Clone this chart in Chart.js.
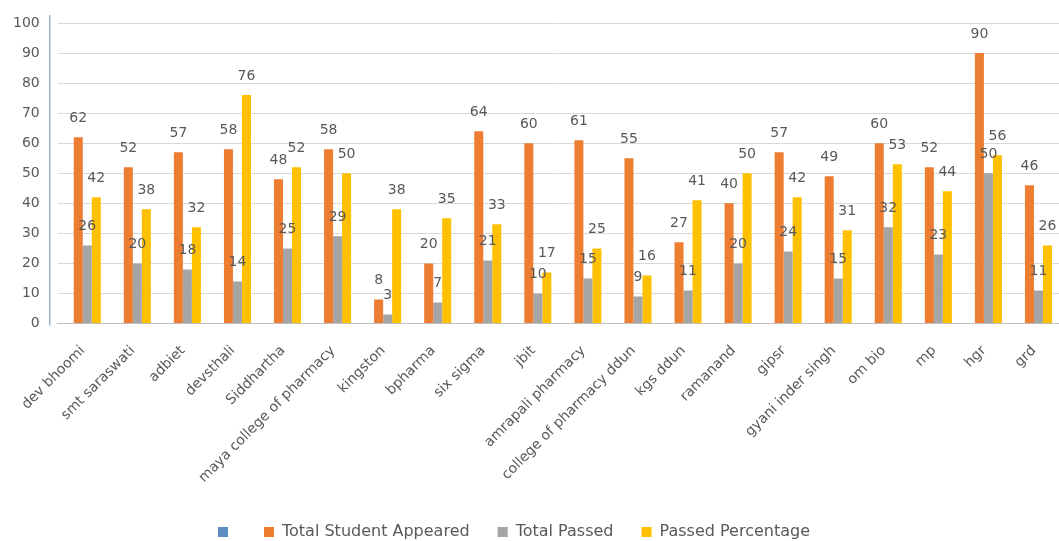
<!DOCTYPE html>
<html>
<head>
<meta charset="utf-8">
<title>Student Results</title>
<script src="https://cdn.jsdelivr.net/npm/chart.js@4.4.1/dist/chart.umd.min.js"></script>
<style>
  html, body { margin: 0; padding: 0; background: #fff; }
  #wrap { width: 1059px; height: 541px; position: relative; }
</style>
</head>
<body>
<div id="wrap"><canvas id="resultChart"></canvas></div>
<script>
// --- Data ---
const colleges = [
  "dev bhoomi", "smt saraswati", "adbiet", "devsthali", "Siddhartha",
  "maya college of pharmacy", "kingston", "bpharma", "six sigma", "jbit",
  "amrapali pharmacy", "college of pharmacy ddun", "kgs ddun", "ramanand", "gipsr",
  "gyani inder singh", "om bio", "mp", "hgr", "grd"
];
const blankSeries = [];
const totalAppeared = [62, 52, 57, 58, 48, 58, 8, 20, 64, 60, 61, 55, 27, 40, 57, 49, 60, 52, 90, 46];
const totalPassed = [26, 20, 18, 14, 25, 29, 3, 7, 21, 10, 15, 9, 11, 20, 24, 15, 32, 23, 50, 11];
const passedPercentage = [42, 38, 32, 76, 52, 50, 38, 35, 33, 17, 25, 16, 41, 50, 42, 31, 53, 44, 56, 26];
const yTicks = [0, 10, 20, 30, 40, 50, 60, 70, 80, 90, 100];

const FONT = "'DejaVu Sans', sans-serif";
const TEXT_COLOR = "#595959";

// --- Value labels over each bar ---
const valueLabels = {
  id: "valueLabels",
  afterDatasetsDraw(chart) {
    const ctx = chart.ctx;
    ctx.save();
    ctx.font = "14px " + FONT;
    ctx.fillStyle = TEXT_COLOR;
    ctx.textAlign = "center";
    ctx.textBaseline = "bottom";
    chart.data.datasets.forEach((ds, i) => {
      if (!ds.showValues) return;
      chart.getDatasetMeta(i).data.forEach((bar, j) => {
        if (ds.data[j] == null) return;
        ctx.fillText(ds.data[j], bar.x, bar.y - 12);
      });
    });
    ctx.restore();
  }
};

// --- Vertical axis line, drawn a little left of the plot like the original ---
const axisLine = {
  id: "axisLine",
  afterDraw(chart) {
    const { ctx, chartArea } = chart;
    const x = chartArea.left - 8;
    ctx.save();
    ctx.strokeStyle = "#9FB2C6";
    ctx.lineWidth = 1.5;
    ctx.beginPath();
    ctx.moveTo(x, chartArea.top - 8);
    ctx.lineTo(x, chartArea.bottom + 2);
    ctx.stroke();
    ctx.restore();
  }
};

// --- Legend: a bit less height than Chart.js gives it, and sits left of centre ---
const legendTweak = {
  id: "legendTweak",
  beforeLayout(chart) {
    const legend = chart.legend;
    if (legend && !legend._tweaked) {
      const fit = legend.fit;
      legend.fit = function () {
        fit.call(this);
        this.height -= 10;
      };
      legend._tweaked = true;
    }
  },
  afterLayout(chart) {
    const legend = chart.legend;
    if (!legend) return;
    legend.left -= 13;
    legend.right -= 13;
    legend.top -= 1;
    legend.bottom -= 1;
  }
};

const ctx = document.getElementById("resultChart").getContext("2d");
new Chart(ctx, {
  type: "bar",
  data: {
    labels: colleges,
    datasets: [
      { label: "", data: blankSeries, backgroundColor: "#5B8DC0" },
      { label: "Total Student Appeared", data: totalAppeared, backgroundColor: "#ED7D31", showValues: true },
      { label: "Total Passed", data: totalPassed, backgroundColor: "#A5A5A5", showValues: true },
      { label: "Passed Percentage", data: passedPercentage, backgroundColor: "#FFC000", showValues: true }
    ]
  },
  options: {
    responsive: true,
    maintainAspectRatio: false,
    animation: false,
    layout: { autoPadding: false, padding: { top: 23, left: -5, right: 0, bottom: 0 } },
    datasets: {
      bar: { categoryPercentage: 0.72, barPercentage: 1.0, borderWidth: 0 }
    },
    plugins: {
      legend: {
        display: true,
        position: "bottom",
        labels: {
          boxWidth: 10,
          boxHeight: 10,
          padding: 28,
          color: TEXT_COLOR,
          font: { family: FONT, size: 16 }
        }
      },
      tooltip: { enabled: false }
    },
    scales: {
      x: {
        grid: { display: false },
        border: { display: true, color: "#BFBFBF" },
        ticks: {
          autoSkip: false,
          minRotation: 45,
          maxRotation: 45,
          padding: 11,
          color: TEXT_COLOR,
          font: { family: FONT, size: 14 }
        }
      },
      y: {
        min: 0,
        max: 100,
        afterBuildTicks(scale) {
          scale.ticks = yTicks.map(v => ({ value: v }));
        },
        afterFit(scale) {
          // tick padding should not add space above/below the plot
          scale.paddingTop = 0;
          scale.paddingBottom = 0;
        },
        grid: { color: "#D9D9D9", drawTicks: false },
        border: { display: false },
        ticks: {
          padding: 18,
          color: TEXT_COLOR,
          font: { family: FONT, size: 14 }
        }
      }
    }
  },
  plugins: [valueLabels, axisLine, legendTweak]
});
</script>
</body>
</html>
